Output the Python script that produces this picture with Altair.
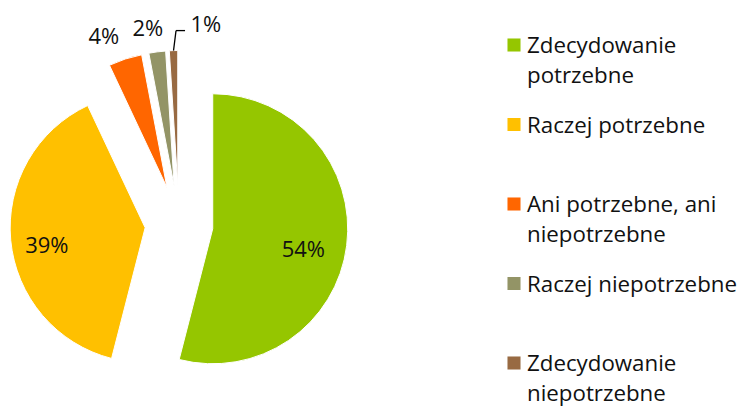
import altair as alt
import pandas as pd

# ---- data ----
categories = [
    "Zdecydowanie potrzebne",
    "Raczej potrzebne",
    "Ani potrzebne, ani niepotrzebne",
    "Raczej niepotrzebne",
    "Zdecydowanie niepotrzebne",
]
values = [54, 39, 4, 2, 1]
value_labels = ["54%", "39%", "4%", "2%", "1%"]
legend_labels = [
    "Zdecydowanie\npotrzebne",
    "Raczej potrzebne",
    "Ani potrzebne, ani\nniepotrzebne",
    "Raczej niepotrzebne",
    "Zdecydowanie\nniepotrzebne",
]

# ---- style ----
colors = ["#95C600", "#FFC000", "#FF6600", "#939466", "#986A42"]
CX, CY, R = 171, 216.5, 135
explode = [34, 34, 39, 39, 39]
label_r = [93, 100, 163, 159, 163]
label_shift = [5.9, -5.1, -4.8, -2.3, 11.7]
FONT = "Open Sans"
FS = 22
LFS = 22.3

df = pd.DataFrame({"cat": categories, "value": values, "label": value_labels,
                   "order": list(range(len(categories)))})
leg = pd.DataFrame({"cat": categories, "legend": legend_labels})

color = alt.Color("cat:N", scale=alt.Scale(domain=categories, range=colors), legend=None)

base = (
    alt.Chart(df)
    .transform_joinaggregate(total="sum(value)")
    .transform_window(cum="sum(value)", sort=[alt.SortField("order")], frame=[None, 0])
    .transform_calculate(
        a1="2*PI*datum.cum/datum.total",
        a0="2*PI*(datum.cum-datum.value)/datum.total",
    )
    .transform_calculate(
        mid="(datum.a0+datum.a1)/2",
        ex=f"{explode}[datum.order]",
        lr=f"{label_r}[datum.order]",
        ls=f"{label_shift}[datum.order]",
    )
    .transform_calculate(
        px=f"{CX}+datum.ex*sin(datum.mid)",
        py=f"{CY}-datum.ex*cos(datum.mid)",
        la="datum.mid+datum.ls*PI/180",
    )
    .transform_calculate(
        lx="datum.px+datum.lr*sin(datum.la)",
        ly="datum.py-datum.lr*cos(datum.la)",
    )
)

pie = base.mark_arc(outerRadius=R, stroke="white", strokeWidth=1).encode(
    theta=alt.Theta("a0:Q", scale=None),
    theta2="a1:Q",
    x=alt.X("px:Q", scale=None, axis=None),
    y=alt.Y("py:Q", scale=None, axis=None),
    color=color,
)

text = base.mark_text(font=FONT, fontSize=FS, color="#111111").encode(
    x=alt.X("lx:Q", scale=None, axis=None),
    y=alt.Y("ly:Q", scale=None, axis=None),
    text="label:N",
)

leader = (
    base.transform_filter("datum.order == 4")
    .transform_calculate(
        p1x=f"datum.px+{R}*sin(datum.mid)",
        p1y=f"datum.py-{R}*cos(datum.mid)",
    )
    .transform_calculate(p2x="datum.p1x+2.5", p2y="datum.p1y-20")
    .transform_calculate(p3x="datum.p2x+9")
)
lead1 = leader.mark_rule(color="#000000", strokeWidth=1.3).encode(
    x=alt.X("p1x:Q", scale=None, axis=None), y=alt.Y("p1y:Q", scale=None, axis=None),
    x2="p2x:Q", y2="p2y:Q",
)
lead2 = leader.mark_rule(color="#000000", strokeWidth=1.3).encode(
    x=alt.X("p2x:Q", scale=None, axis=None), y=alt.Y("p2y:Q", scale=None, axis=None),
    x2="p3x:Q",
)

leg_y = alt.Y("cat:N", scale=alt.Scale(domain=categories, range=[37, 355], padding=0), axis=None)
leg_sym = alt.Chart(leg).mark_square(size=170, opacity=1).encode(
    x=alt.value(506), y=leg_y, color=color,
)
leg_txt = alt.Chart(leg).mark_text(
    font=FONT, fontSize=LFS, align="left", baseline="top", dy=-10, lineBreak="\n",
    lineHeight=30, color="#111111",
).encode(x=alt.value(519), y=leg_y, text="legend:N")

chart = (
    alt.layer(pie, text, lead1, lead2, leg_sym, leg_txt)
    .resolve_scale(y="independent", x="independent")
    .properties(width=732, height=402, padding=0, autosize="none")
    .configure_view(strokeWidth=0)
)

chart.save("out.html", embed_options={"renderer": "svg", "actions": False})
